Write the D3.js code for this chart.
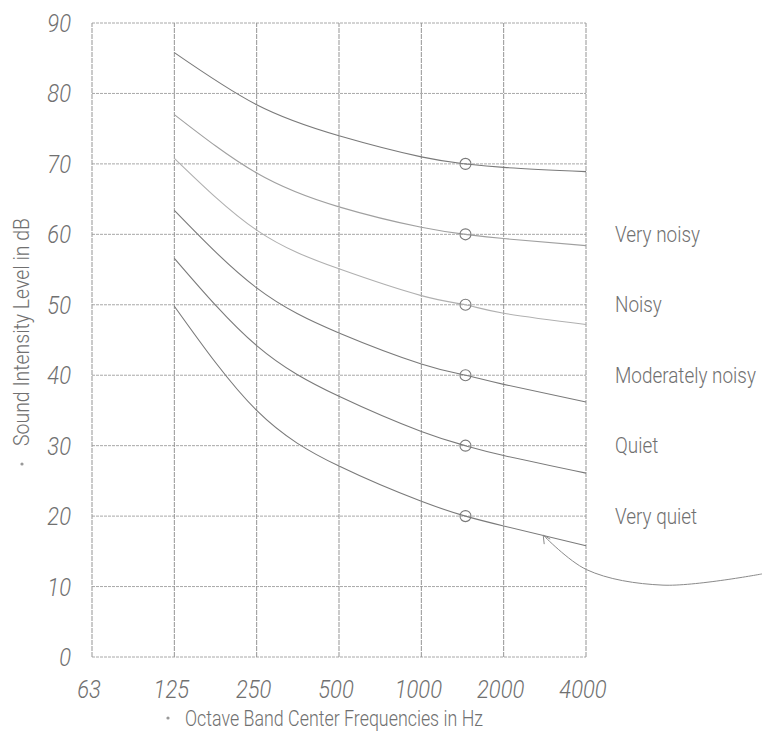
<!DOCTYPE html>
<html>
<head>
<meta charset="utf-8">
<script src="https://cdn.jsdelivr.net/npm/d3@7"></script>
<style>
  html, body { margin: 0; padding: 0; background: #fff; }
  svg { display: block; }
  .txt { font-family: Roboto, "Open Sans", "DejaVu Sans Condensed", sans-serif; font-weight: 300; fill: #707070; }
</style>
</head>
<body>
<svg id="chart" width="762" height="738"></svg>
<script>
// ---- data ----
const frequencies = [62.5, 125, 250, 500, 1000, 2000, 4000];
const freqLabels = ["63", "125", "250", "500", "1000", "2000", "4000"];
const dbTicks = [0, 10, 20, 30, 40, 50, 60, 70, 80, 90];
const curveFreqs = [125, 250, 500, 1000, 1450, 2000, 4000];
const curveTop        = [85.8, 78.4, 74.0, 71.0, 70, 69.5, 68.9];
const curveVeryNoisy  = [77.0, 68.7, 63.9, 61.0, 60, 59.4, 58.4];
const curveNoisy      = [70.8, 60.6, 55.1, 51.3, 50, 48.8, 47.2];
const curveModerate   = [63.4, 52.4, 46.0, 41.6, 40, 38.7, 36.2];
const curveQuiet      = [56.6, 44.2, 37.0, 32.0, 30, 28.6, 26.1];
const curveVeryQuiet  = [49.8, 35.0, 27.1, 22.1, 20, 18.6, 15.8];
const markerFreq = 1450;
const markerValues = [70, 60, 50, 40, 30, 20];
const curveLabels = ["", "Very noisy", "Noisy", "Moderately noisy", "Quiet", "Very quiet"];
// annotation arrow in data space (frequency, dB)
const arrowFreqs = [17650, 7650, 4020, 2790];
const arrowValues = [11.8, 10.2, 12.4, 17.3];

const series = [curveTop, curveVeryNoisy, curveNoisy, curveModerate, curveQuiet, curveVeryQuiet];
const seriesColors = ["#7a7a7a", "#a0a0a0", "#b0b0b0", "#7a7a7a", "#7a7a7a", "#7a7a7a"];

// ---- layout ----
const svg = d3.select("#chart");
const margin = {left: 92, right: 176, top: 23, bottom: 81};
const W = 762, H = 738;
const x = d3.scaleLog().base(2).domain([62.5, 4000]).range([margin.left, W - margin.right]);
const y = d3.scaleLinear().domain([0, 90]).range([H - margin.bottom, margin.top]);

const grid = svg.append("g");
grid.selectAll("line.h").data(dbTicks).join("line")
  .attr("x1", x(62.5)).attr("x2", x(4000))
  .attr("y1", d => y(d)).attr("y2", d => y(d))
  .attr("stroke", "#a8a8a8").attr("stroke-width", 1)
  .attr("stroke-dasharray", "3,1");
grid.selectAll("line.v").data(frequencies).join("line")
  .attr("x1", d => x(d)).attr("x2", d => x(d))
  .attr("y1", y(0)).attr("y2", y(90))
  .attr("stroke", "#959595").attr("stroke-width", 1)
  .attr("stroke-dasharray", "5,1");

// helper: condensed text (narrow, tall glyphs like the hand lettering)
function condensed(sel, sx) {
  sel.attr("transform", function () {
    const px = +this.getAttribute("data-x"), py = +this.getAttribute("data-y");
    return `translate(${px},${py}) scale(${sx},1)`;
  });
}

// y tick labels
svg.append("g").selectAll("text").data(dbTicks).join("text")
  .attr("class", "txt")
  .attr("data-x", 71).attr("data-y", d => y(d))
  .attr("dy", "0.36em")
  .attr("text-anchor", "end")
  .attr("font-size", 25).attr("font-style", "italic")
  .text(d => d)
  .call(condensed, 0.88);

// x tick labels
svg.append("g").selectAll("text").data(frequencies).join("text")
  .attr("class", "txt")
  .attr("data-x", d => x(d) - 3).attr("data-y", 698)
  .attr("text-anchor", "middle")
  .attr("font-size", 25).attr("font-style", "italic")
  .text((d, i) => freqLabels[i])
  .call(condensed, 0.88);

// axis titles
svg.append("circle").attr("cx", 168).attr("cy", 718).attr("r", 1.6).attr("fill", "#999");
svg.append("text").attr("class", "txt")
  .attr("x", 185).attr("y", 726)
  .attr("font-size", 22)
  .attr("textLength", 298).attr("lengthAdjust", "spacingAndGlyphs")
  .text("Octave Band Center Frequencies in Hz");

svg.append("circle").attr("cx", 22).attr("cy", 464).attr("r", 1.6).attr("fill", "#999");
svg.append("text").attr("class", "txt")
  .attr("transform", "translate(29,446) rotate(-90)")
  .attr("font-size", 22)
  .attr("textLength", 228).attr("lengthAdjust", "spacingAndGlyphs")
  .text("Sound Intensity Level in dB");

// curves
const line = d3.line()
  .x((d, i) => x(curveFreqs[i]))
  .y(d => y(d))
  .curve(d3.curveNatural);
svg.append("g").selectAll("path").data(series).join("path")
  .attr("d", d => line(d))
  .attr("fill", "none")
  .attr("stroke", (d, i) => seriesColors[i])
  .attr("stroke-width", 1.1);

// markers
svg.append("g").selectAll("circle").data(markerValues).join("circle")
  .attr("cx", x(markerFreq)).attr("cy", d => y(d))
  .attr("r", 5.5)
  .attr("fill", "none")
  .attr("stroke", "#7a7a7a").attr("stroke-width", 1.1);

// curve labels
svg.append("g").selectAll("text").data(markerValues).join("text")
  .attr("class", "txt")
  .attr("data-x", 615).attr("data-y", d => y(d))
  .attr("dy", "0.35em")
  .attr("font-size", 22)
  .text((d, i) => curveLabels[i])
  .call(condensed, 0.86);

// annotation arrow
const arrowPts = arrowFreqs.map((f, i) => [x(f), y(arrowValues[i])]);
svg.append("path")
  .attr("d", d3.line().curve(d3.curveCatmullRom)(arrowPts))
  .attr("fill", "none").attr("stroke", "#8a8a8a").attr("stroke-width", 1);
const tip = arrowPts[arrowPts.length - 1];
svg.append("path")
  .attr("d", `M${tip[0]},${tip[1]} l1,9 M${tip[0]},${tip[1]} l7,4`)
  .attr("fill", "none").attr("stroke", "#8a8a8a").attr("stroke-width", 1);
</script>
</body>
</html>
